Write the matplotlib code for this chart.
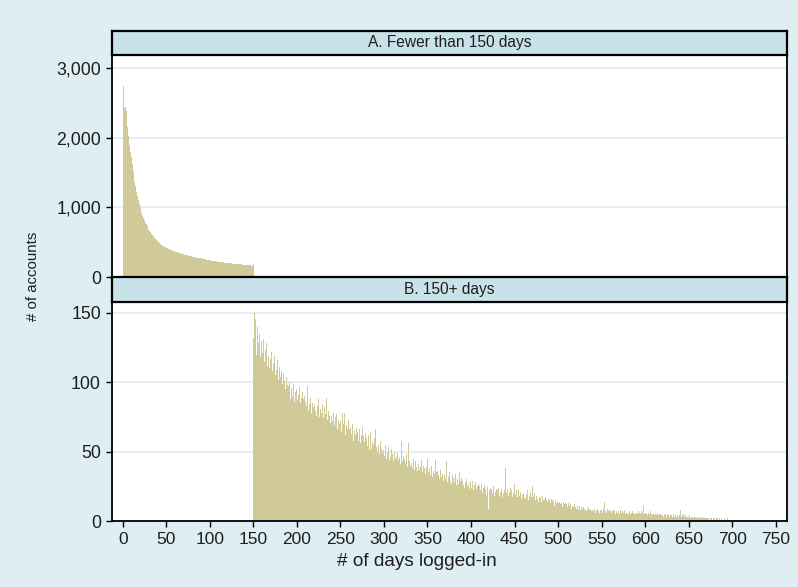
import matplotlib
matplotlib.use("Agg")
import matplotlib.pyplot as plt
from matplotlib.ticker import FuncFormatter

# ---------------- data ----------------
panel_titles = ["A. Fewer than 150 days", "B. 150+ days"]
x_label = "# of days logged-in"
y_label = "# of accounts"

days_a_start = 1
counts_a = [
    2740, 2430, 2440, 2380, 2250, 2150, 2030, 1900, 1800, 1720,
    1620, 1520, 1440, 1370, 1300, 1220, 1160, 1100, 1050, 1010,
    960, 925, 880, 850, 815, 780, 755, 730, 700, 680,
    662, 640, 622, 600, 585, 570, 556, 540, 532, 515,
    502, 492, 478, 470, 462, 450, 446, 436, 430, 420,
    414, 408, 400, 396, 390, 384, 380, 374, 372, 368,
    362, 358, 352, 350, 344, 340, 338, 334, 330, 328,
    322, 318, 316, 312, 308, 304, 302, 298, 296, 292,
    290, 286, 284, 280, 278, 276, 272, 270, 268, 266,
    262, 260, 258, 256, 252, 250, 248, 246, 244, 242,
    240, 236, 236, 232, 230, 228, 226, 226, 222, 220,
    218, 216, 216, 212, 210, 210, 206, 206, 204, 202,
    200, 198, 198, 196, 194, 192, 192, 190, 188, 188,
    186, 184, 184, 182, 180, 180, 178, 176, 176, 174,
    172, 172, 170, 168, 168, 166, 166, 164, 162, 180,
]

days_b_start = 150
counts_b = [
    132, 151, 125, 146, 120, 140, 128, 135, 118, 130,
    126, 121, 131, 115, 123, 128, 112, 119, 124, 110,
    117, 122, 108, 114, 119, 105, 113, 109, 116, 102,
    111, 104, 108, 134, 99, 106, 101, 95, 104, 98,
    97, 92, 100, 88, 96, 90, 99, 86, 93, 89,
    95, 87, 91, 97, 85, 89, 93, 82, 88, 90,
    86, 83, 97, 80, 87, 84, 89, 78, 85, 82,
    84, 79, 86, 76, 83, 88, 75, 81, 78, 84,
    80, 74, 82, 77, 89, 73, 79, 76, 81, 71,
    76, 72, 78, 69, 75, 71, 77, 66, 73, 70,
    72, 64, 78, 68, 70, 78, 62, 69, 66, 73,
    66, 61, 68, 63, 70, 58, 65, 62, 67, 60,
    64, 58, 66, 56, 62, 68, 55, 61, 57, 63,
    60, 54, 62, 51, 58, 64, 52, 57, 55, 60,
    66, 53, 57, 50, 55, 48, 58, 52, 49, 54,
    51, 47, 55, 45, 50, 53, 44, 49, 46, 52,
    48, 43, 50, 45, 47, 42, 49, 44, 46, 41,
    58, 43, 47, 40, 45, 42, 48, 39, 56, 43,
    44, 40, 42, 38, 45, 37, 43, 39, 41, 36,
    41, 37, 39, 44, 35, 40, 36, 38, 34, 39,
    45, 35, 38, 33, 37, 40, 32, 36, 34, 44,
    35, 31, 36, 33, 30, 37, 32, 34, 29, 35,
    33, 30, 43, 28, 32, 35, 29, 31, 27, 33,
    31, 28, 34, 26, 30, 32, 27, 35, 29, 31,
    29, 26, 31, 24, 28, 30, 25, 27, 23, 29,
    27, 24, 29, 22, 26, 28, 23, 25, 21, 27,
    25, 22, 27, 20, 24, 26, 21, 23, 19, 25,
    9, 22, 24, 19, 23, 20, 25, 18, 21, 23,
    22, 19, 24, 18, 21, 23, 17, 20, 22, 19,
    38, 20, 23, 18, 21, 24, 19, 22, 17, 20,
    27, 19, 22, 17, 20, 23, 18, 21, 16, 19,
    20, 17, 21, 16, 19, 22, 15, 18, 20, 17,
    18, 25, 17, 20, 15, 18, 16, 19, 14, 17,
    17, 14, 18, 15, 16, 13, 17, 15, 14, 16,
    15, 13, 16, 12, 15, 14, 11, 15, 13, 14,
    13, 11, 14, 12, 13, 10, 14, 12, 11, 13,
    12, 10, 13, 11, 12, 9, 12, 11, 10, 12,
    10, 9, 11, 8, 10, 11, 8, 10, 9, 10,
    9, 8, 10, 7, 9, 10, 8, 9, 7, 9,
    8, 7, 9, 6, 8, 9, 7, 8, 6, 8,
    8, 6, 9, 14, 7, 8, 6, 9, 7, 8,
    7, 6, 8, 6, 7, 8, 5, 7, 6, 7,
    7, 5, 8, 6, 7, 6, 8, 5, 7, 6,
    6, 5, 7, 5, 6, 7, 5, 6, 5, 6,
    6, 5, 7, 5, 6, 5, 7, 6, 11, 5,
    6, 5, 6, 4, 6, 5, 7, 4, 5, 6,
    5, 4, 5, 4, 6, 4, 5, 4, 5, 4,
    4, 3, 5, 4, 4, 3, 5, 4, 3, 4,
    4, 3, 4, 5, 3, 4, 3, 4, 3, 4,
    4, 8, 3, 4, 5, 3, 4, 3, 4, 3,
    3, 4, 2, 3, 3, 4, 2, 3, 3, 2,
    3, 2, 3, 3, 2, 3, 2, 3, 2, 2,
    2, 3, 2, 2, 1, 2, 2, 1, 2, 2,
    2, 1, 2, 2, 1, 2, 1, 1, 2, 1,
    1, 2, 1, 1, 1, 2, 1, 1, 1, 1,
    1, 1, 0, 1, 1, 0, 1, 1, 0, 1,
    3, 1, 0, 1, 0, 1,
]

x_ticks = [0, 50, 100, 150, 200, 250, 300, 350, 400, 450, 500, 550, 600, 650, 700, 750]
y_ticks_a = [0, 1000, 2000, 3000]
y_ticks_b = [0, 50, 100, 150]

# ---------------- style ----------------
BG = "#dfeef3"
STRIP = "#c9e1e9"
BAR = "#cfca97"
GRID = "#e3eff5"
TXT = "#1e1e1e"
FONT = "Liberation Sans"
plt.rcParams["font.family"] = [FONT, "DejaVu Sans"]

W, H = 798, 587
fig = plt.figure(figsize=(W / 100, H / 100), dpi=100, facecolor=BG)

def fx(px):
    return px / W

def fy(py):
    return 1 - py / H

L, R = 112, 787
ax_a = fig.add_axes([fx(L), fy(277), fx(R) - fx(L), fy(55) - fy(277)])
ax_b = fig.add_axes([fx(L), fy(521), fx(R) - fx(L), fy(302) - fy(521)])
strip_a = fig.add_axes([fx(L), fy(55), fx(R) - fx(L), fy(31) - fy(55)])
strip_b = fig.add_axes([fx(L), fy(302), fx(R) - fx(L), fy(277) - fy(302)])

days_a = list(range(days_a_start, days_a_start + len(counts_a)))
days_b = list(range(days_b_start, days_b_start + len(counts_b)))

xlim = (-12.3, 762.9)
for ax, days, counts, yt, ylim in [
    (ax_a, days_a, counts_a, y_ticks_a, (0, 3187)),
    (ax_b, days_b, counts_b, y_ticks_b, (0, 157.9)),
]:
    ax.set_facecolor("white")
    ax.bar(days, counts, width=1.0, color=BAR, linewidth=0, align="center", zorder=2)
    ax.set_xlim(*xlim)
    ax.set_ylim(*ylim)
    ax.set_yticks(yt)
    for v in yt[1:]:
        ax.axhline(v, color=GRID, lw=1.4, zorder=1)
    for s in ax.spines.values():
        s.set_color("black")
        s.set_linewidth(1.3)
    ax.spines["top"].set_visible(False)
    ax.tick_params(axis="y", direction="out", length=4.5, width=1, colors="black",
                   labelcolor=TXT, labelsize=12.8, pad=3.5)
    ax.tick_params(axis="x", direction="out", length=4.5, width=1, colors="black",
                   labelcolor=TXT, labelsize=12.5, pad=3.5)

ax_a.yaxis.set_major_formatter(FuncFormatter(lambda v, p: f"{int(v):,}"))
ax_a.set_xticks([])
ax_b.set_xticks(x_ticks)
ax_b.set_xticklabels([str(t) for t in x_ticks])

for st, title in zip([strip_a, strip_b], panel_titles):
    st.set_facecolor(STRIP)
    st.set_xticks([])
    st.set_yticks([])
    for s in st.spines.values():
        s.set_color("black")
        s.set_linewidth(1.6)
    st.text(0.5, 0.5, title, ha="center", va="center", fontsize=11.2,
            color=TXT, transform=st.transAxes)

fig.text(fx(33), fy(276), y_label, rotation=90, ha="center", va="center",
         fontsize=10.8, color=TXT)
fig.text(fx(417), fy(562), x_label, ha="center", va="center",
         fontsize=13.7, color=TXT)

fig.savefig("out.png", dpi=100, facecolor=BG)
